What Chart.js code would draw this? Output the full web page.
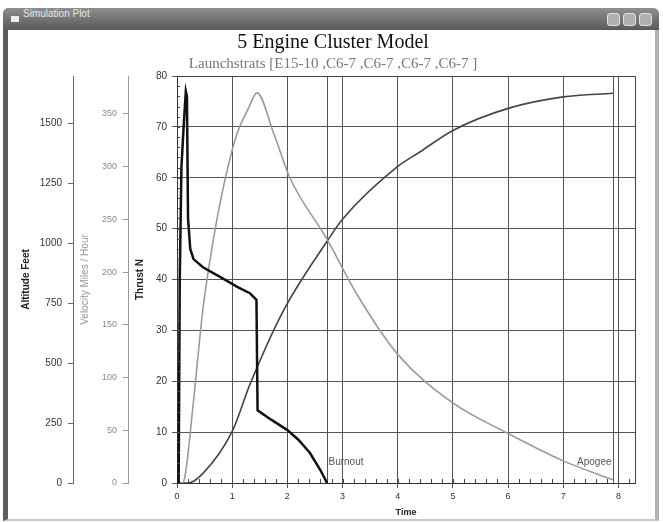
<!DOCTYPE html>
<html>
<head>
<meta charset="utf-8">
<title>5 Engine Cluster Model</title>
<script src="https://cdn.jsdelivr.net/npm/chart.js@4.4.1/dist/chart.umd.min.js"></script>
<style>
    html, body { margin: 0; padding: 0; width: 663px; height: 522px; background: #fff; overflow: hidden; }
    #frame { position: absolute; left: 3px; top: 8px; width: 656px; height: 513px; background: #fff;
             border-radius: 6px 6px 0 0; box-sizing: border-box;
             border-left: 5px solid #5c5c5c; border-right: 4px solid #b4b4b4; border-bottom: 2px solid #c8c8c8; }
    #titlebar { position: absolute; left: 3px; top: 8px; width: 656px; height: 22px; border-radius: 6px 6px 0 0;
                background: linear-gradient(#8e8e8e, #5a5a5a); }
    #titlebar .icon { position: absolute; left: 8px; top: 8px; width: 8px; height: 6px; background: #eee; }
    #titlebar .name { position: absolute; left: 20px; top: 0; line-height: 22px; font: 10px "Liberation Sans", sans-serif; color: #e8e8e8; }
    #titlebar .btn { position: absolute; top: 5px; width: 13px; height: 13px; border-radius: 3px; background: #b0b0b0; border: 1px solid #e0e0e0; box-sizing: border-box; }
    #plot { position: absolute; left: 8px; top: 30px; width: 646px; height: 489px; }
</style>
</head>
<body>
<div id="frame"></div>
<div id="titlebar">
    <div class="icon"></div>
    <div class="name">Simulation Plot</div>
    <div class="btn" style="left:604px"></div>
    <div class="btn" style="left:620px"></div>
    <div class="btn" style="left:636px"></div>
</div>
<div id="plot"><canvas id="simChart" width="646" height="489"></canvas></div>

<script>
// ==========================================================================================================
// -- Data --
// ==========================================================================================================

const chartTitle = "5 Engine Cluster Model";
const chartSubtitle = "Launchstrats [E15-10 ,C6-7 ,C6-7 ,C6-7 ,C6-7 ]";

// Thrust (N) vs time (s)
const thrustTime   = [0, 0.03, 0.05, 0.08, 0.12, 0.16, 0.18, 0.20, 0.24, 0.30, 0.47, 0.78, 1.10, 1.32, 1.44, 1.46, 1.70, 2.00, 2.20, 2.41, 2.60, 2.72];
const thrustValues = [0, 0,    40,   62,   70,   77,   76,   52,   46,   44,   42.4, 40.5, 38.5, 37.3, 36,   14.3, 12.5, 10.4, 8.5,  5.9,  2.5,  0];

// Velocity (mph) vs time (s)
const velocityTime   = [0, 0.10, 0.15, 0.30, 0.47, 0.65, 0.83, 1.08, 1.30, 1.45, 1.75, 2.05, 2.71, 3.26, 4.00, 5.00, 6.00, 7.00, 7.90];
const velocityValues = [0, 0,    8,    78,   165,  228,  278,  330,  356,  370,  332,  289,  232,  179,  122,  76,   47,   21,   3];

// Altitude (ft) vs time (s)
const altitudeTime   = [0, 0.20, 0.47, 1.00, 1.32, 1.92, 2.71, 3.00, 4.00, 4.40, 5.00, 6.00, 7.00, 7.90];
const altitudeValues = [0, 0,    40,   215,  410,  715,  1005, 1100, 1320, 1380, 1470, 1562, 1610, 1625];

// Flight events
const eventNames = ["Burnout", "Apogee"];
const eventTimes = [2.72, 7.9];

// Tick labels
const timeTicks     = [0, 1, 2, 3, 4, 5, 6, 7, 8];
const thrustTicks   = [0, 10, 20, 30, 40, 50, 60, 70, 80];
const velocityTicks = [0, 50, 100, 150, 200, 250, 300, 350];
const altitudeTicks = [0, 250, 500, 750, 1000, 1250, 1500];

// ==========================================================================================================
// -- Helpers --
// ==========================================================================================================

const toPoints = (xs, ys) => xs.map((x, i) => ({ x: x, y: ys[i] }));
const setTicks = (list) => (scale) => { scale.ticks = list.map(v => ({ value: v })); };
const plainLabel = (v) => String(v);

// Top border, minor ticks and event markers ----------------------------------------------------------
const plotExtras = {
    id: "plotExtras",
    beforeDatasetsDraw(chart) {
        const { ctx, chartArea: a, scales } = chart;
        const x = scales.x;
        ctx.save();
        ctx.strokeStyle = "#555";
        ctx.lineWidth = 1;
        eventTimes.forEach((t, i) => {
            const px = Math.round(x.getPixelForValue(t)) + 0.5;
            ctx.beginPath();
            ctx.moveTo(px, a.top);
            ctx.lineTo(px, a.bottom);
            ctx.stroke();
            ctx.fillStyle = "#555";
            ctx.font = '10px "Liberation Sans", sans-serif';
            ctx.textBaseline = "middle";
            ctx.textAlign = i === 0 ? "left" : "right";
            ctx.fillText(eventNames[i], i === 0 ? px + 1 : px - 2, a.bottom - 21);
        });
        ctx.restore();
    },
    afterDraw(chart) {
        const { ctx, chartArea: a, scales } = chart;
        ctx.save();
        ctx.strokeStyle = "#444";
        ctx.lineWidth = 1;
        ctx.beginPath();
        ctx.moveTo(a.left, a.top + 0.5);
        ctx.lineTo(a.right, a.top + 0.5);
        // minor ticks along time axis
        for (let t = 0.2; t < scales.x.max; t += 0.2) {
            const px = Math.round(scales.x.getPixelForValue(t)) + 0.5;
            ctx.moveTo(px, a.bottom);
            ctx.lineTo(px, a.bottom - 4);
        }
        // minor ticks along thrust axis
        for (let n = 2; n < 80; n += 2) {
            const py = Math.round(scales.yThrust.getPixelForValue(n)) + 0.5;
            ctx.moveTo(a.left, py);
            ctx.lineTo(a.left + 3, py);
        }
        ctx.stroke();
        ctx.restore();
    }
};

// ==========================================================================================================
// -- Chart --
// ==========================================================================================================

const tickFont = { family: "'Liberation Sans', sans-serif", size: 10 };
const titleFont = { family: "'Liberation Sans', sans-serif", size: 10, weight: "bold" };

new Chart(document.getElementById("simChart"), {
    type: "line",
    data: {
        datasets: [
            {
                label: "Thrust",
                data: toPoints(thrustTime, thrustValues),
                yAxisID: "yThrust",
                borderColor: "#111",
                borderWidth: 2.5,
                pointRadius: 0,
                tension: 0,
                order: 0,
            },
            {
                label: "Velocity",
                data: toPoints(velocityTime, velocityValues),
                yAxisID: "yVel",
                borderColor: "#9a9a9a",
                borderWidth: 1.6,
                pointRadius: 0,
                cubicInterpolationMode: "monotone",
                order: 1,
            },
            {
                label: "Altitude",
                data: toPoints(altitudeTime, altitudeValues),
                yAxisID: "yAlt",
                borderColor: "#444",
                borderWidth: 1.6,
                pointRadius: 0,
                cubicInterpolationMode: "monotone",
                order: 2,
            },
        ],
    },
    options: {
        responsive: false,
        animation: false,
        layout: { padding: { left: 5, right: 1, top: 0, bottom: 0 } },
        scales: {
            x: {
                type: "linear",
                min: 0,
                max: 8.3,
                afterBuildTicks: setTicks(timeTicks),
                afterFit: (s) => { s.height = 36; },
                grid: { color: "#555", tickLength: 5, tickColor: "#555" },
                border: { color: "#333" },
                ticks: { color: "#333", font: { ...tickFont, size: 9 }, padding: 3, maxRotation: 0, callback: plainLabel },
                title: { display: true, text: "Time", color: "#222", font: { ...titleFont, size: 9 }, padding: { top: 0, bottom: 1 } },
            },
            yThrust: {
                type: "linear",
                position: "left",
                weight: 0,
                min: 0,
                max: 80,
                afterBuildTicks: setTicks(thrustTicks),
                afterFit: (s) => { s.width = 49; },
                grid: { color: "#555", tickLength: 5, tickColor: "#555" },
                border: { color: "#333" },
                ticks: { color: "#333", font: tickFont, padding: 5, callback: plainLabel },
                title: { display: true, text: "Thrust N", color: "#222", font: titleFont, padding: { top: 6, bottom: 0 } },
            },
            yVel: {
                type: "linear",
                position: "left",
                weight: 1,
                min: 0,
                max: 386,
                afterBuildTicks: setTicks(velocityTicks),
                afterFit: (s) => { s.width = 55; },
                grid: { drawOnChartArea: false, tickLength: 5, tickColor: "#999" },
                border: { color: "#999" },
                ticks: { color: "#888", font: { ...tickFont, size: 9 }, padding: 6, callback: plainLabel },
                title: { display: true, text: "Velocity Miles / Hour", color: "#999", font: { ...tickFont, size: 10 }, padding: { top: 6, bottom: 0 } },
            },
            yAlt: {
                type: "linear",
                position: "left",
                weight: 2,
                min: 0,
                max: 1697,
                afterBuildTicks: setTicks(altitudeTicks),
                afterFit: (s) => { s.width = 60; },
                grid: { drawOnChartArea: false, tickLength: 5, tickColor: "#666" },
                border: { color: "#666" },
                ticks: { color: "#333", font: tickFont, padding: 6, callback: plainLabel },
                title: { display: true, text: "Altitude Feet", color: "#222", font: titleFont, padding: { top: 7, bottom: 0 } },
            },
            // right frame edge of the plot
            yFrame: {
                type: "linear",
                position: "right",
                min: 0,
                max: 80,
                afterFit: (s) => { s.width = 18; },
                grid: { display: false },
                border: { color: "#444" },
                ticks: { display: false },
            },
        },
        plugins: {
            legend: { display: false },
            tooltip: { enabled: false },
            title: {
                display: true,
                text: chartTitle,
                color: "#111",
                font: { family: "'Liberation Serif', serif", size: 20, weight: "normal" },
                padding: { top: 1, bottom: 0 },
            },
            subtitle: {
                display: true,
                text: chartSubtitle,
                color: "#777",
                font: { family: "'Liberation Serif', serif", size: 15 },
                padding: { top: 0, bottom: 3 },
            },
        },
    },
    plugins: [plotExtras],
});
</script>
</body>
</html>
